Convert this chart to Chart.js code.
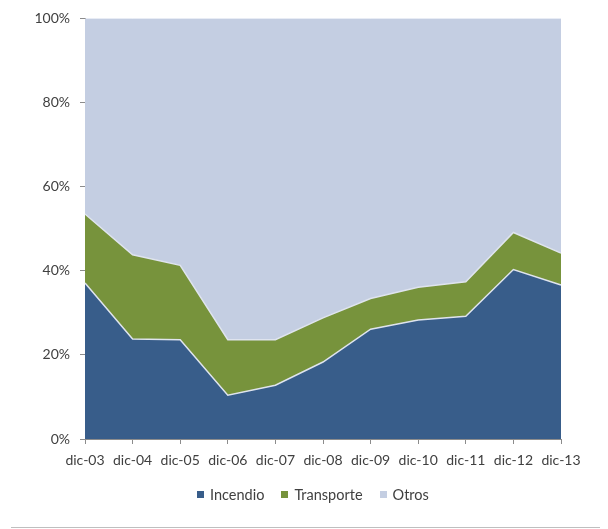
<!DOCTYPE html>
<html>
<head>
<meta charset="utf-8">
<script src="https://cdn.jsdelivr.net/npm/chart.js@4"></script>
<style>
  body { margin: 0; background: #fff; }
  .wrap { position: relative; width: 608px; height: 529px; }
  .bottom-rule { position: absolute; left: 11px; right: 8px; top: 527px; height: 0; border-top: 1px solid #bfbfbf; }
  .legend { position: absolute; left: 197px; top: 486px; display: flex; align-items: center;
            font: 14.5px Lato, "Open Sans", sans-serif; color: #404040; white-space: nowrap; }
  .legend .item { display: flex; align-items: center; margin-right: 17px; }
  .legend .box { width: 7px; height: 7px; margin-right: 6px; }
</style>
</head>
<body>
<div class="wrap">
  <canvas id="chart" width="608" height="529"></canvas>
  <div class="legend" id="legend"></div>
  <div class="bottom-rule"></div>
</div>
<script>
// Data (percent of total)
const labels = ['dic-03', 'dic-04', 'dic-05', 'dic-06', 'dic-07', 'dic-08', 'dic-09', 'dic-10', 'dic-11', 'dic-12', 'dic-13'];
const incendio = [37.1, 23.8, 23.6, 10.4, 12.8, 18.3, 26.1, 28.3, 29.2, 40.3, 36.6];
const transporte = [16.4, 20.0, 17.7, 13.2, 10.8, 10.5, 7.3, 7.8, 8.2, 8.8, 7.6];
const otros = [46.5, 56.2, 58.7, 76.4, 76.4, 71.2, 66.6, 63.9, 62.6, 50.9, 55.8];
const yTicks = [0, 20, 40, 60, 80, 100];

const axisColor = '#8c8c8c';
const textColor = '#404040';
Chart.defaults.font.family = 'Lato, "Open Sans", sans-serif';
Chart.defaults.font.size = 14;
Chart.defaults.color = textColor;

const chart = new Chart(document.getElementById('chart'), {
    type: 'line',
    data: {
        labels: labels,
        datasets: [
            {
                label: 'Incendio',
                data: incendio,
                backgroundColor: '#385d8a',
                borderColor: '#dfe4ee',
                borderWidth: 1.5,
                fill: 'origin'
            },
            {
                label: 'Transporte',
                data: transporte,
                backgroundColor: '#77933c',
                borderColor: '#dfe4ee',
                borderWidth: 1.5,
                fill: '-1'
            },
            {
                label: 'Otros',
                data: otros,
                backgroundColor: '#c4cee2',
                borderColor: '#d4dbea',
                borderWidth: 1,
                fill: '-1'
            }
        ]
    },
    options: {
        responsive: false,
        animation: false,
        layout: {
            padding: { top: 14, right: 47, left: 0, bottom: 50 }
        },
        elements: {
            point: { radius: 0, hoverRadius: 0 },
            line: { tension: 0 }
        },
        plugins: {
            tooltip: { enabled: false },
            legend: { display: false }
        },
        scales: {
            x: {
                offset: false,
                grid: { drawOnChartArea: false, drawTicks: true, tickLength: 5, color: axisColor },
                border: { display: true, color: axisColor },
                ticks: { padding: 8, maxRotation: 0, autoSkip: false, color: textColor },
                afterFit: function(scale) { scale.height = 40; }
            },
            y: {
                stacked: true,
                min: 0,
                max: 100,
                grid: { drawOnChartArea: false, drawTicks: true, tickLength: 5, color: axisColor },
                border: { display: true, color: axisColor },
                afterBuildTicks: function(scale) {
                    scale.ticks = yTicks.map(v => ({ value: v }));
                },
                ticks: {
                    padding: 10,
                    color: textColor,
                    callback: v => v + '%'
                },
                afterFit: function(scale) { scale.width = 85; }
            }
        }
    }
});

// HTML legend built from the datasets
const legend = document.getElementById('legend');
chart.data.datasets.forEach(ds => {
    const item = document.createElement('div');
    item.className = 'item';
    const box = document.createElement('span');
    box.className = 'box';
    box.style.background = ds.backgroundColor;
    const text = document.createElement('span');
    text.textContent = ds.label;
    item.appendChild(box);
    item.appendChild(text);
    legend.appendChild(item);
});
</script>
</body>
</html>
